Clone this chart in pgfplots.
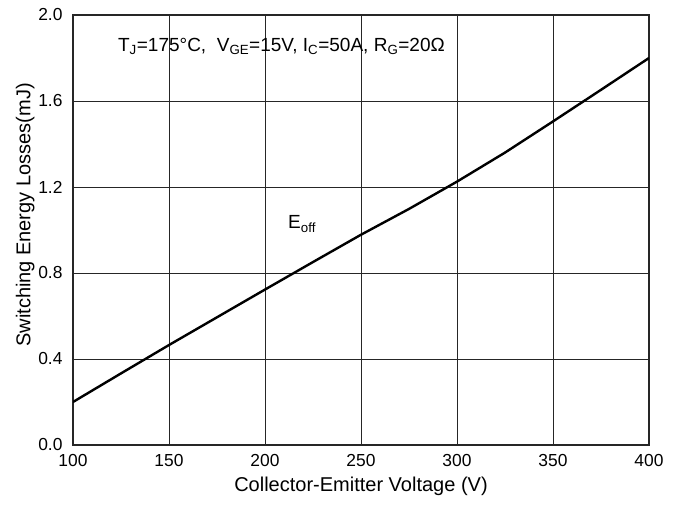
\documentclass[border=0pt]{standalone}
\usepackage{pgfplots}
\pgfplotsset{compat=1.18}
\usepackage{fontspec}
\setmainfont{Liberation Sans}
\begin{document}
\begin{tikzpicture}[x=1bp,y=1bp]
\useasboundingbox (-73,-60) rectangle (609,445);
\begin{axis}[
  at={(0,0)}, anchor=south west,
  scale only axis,
  width=576bp, height=430bp,
  xmin=100, xmax=400, ymin=0, ymax=2.0,
  xtick={100,150,...,400},
  ytick={0,0.4,0.8,1.2,1.6,2.0},
  yticklabel style={xshift=-7bp, /pgf/number format/.cd,fixed,fixed zerofill,precision=1},
  /pgf/number format/assume math mode=true,
  grid=major,
  major grid style={black!85, line width=0.9bp},
  axis line style={black!85, line width=1.1bp},
  tick style={draw=none},
  xlabel={Collector-Emitter Voltage (V)},
  ylabel={Switching Energy Losses(mJ)},
  ticklabel style={font=\fontsize{17.4bp}{20bp}\selectfont},
  xticklabel style={yshift=-6bp},
  xlabel style={font=\fontsize{20bp}{23bp}\selectfont, yshift=-3bp},
  ylabel style={font=\fontsize{20bp}{23bp}\selectfont, yshift=-3bp, xshift=15bp},
]
\addplot[black, line width=2.4bp] coordinates {
(100,0.20) (125,0.333) (150,0.465) (175,0.594) (200,0.723) (225,0.851) (250,0.978) (275,1.098) (300,1.225) (325,1.36) (350,1.505) (375,1.652) (400,1.80)
};
\node[anchor=base west, inner sep=0pt, font=\fontsize{19bp}{22bp}\selectfont] at (axis cs:123.4,1.832) {T\textsubscript{J}=175°C,\ \ V\textsubscript{GE}=15V, I\textsubscript{C}=50A, R\textsubscript{G}=20Ω};
\node[anchor=base west, inner sep=0pt, font=\fontsize{19bp}{22bp}\selectfont] at (axis cs:212,1.005) {E\textsubscript{off}};
\end{axis}
\end{tikzpicture}
\end{document}
